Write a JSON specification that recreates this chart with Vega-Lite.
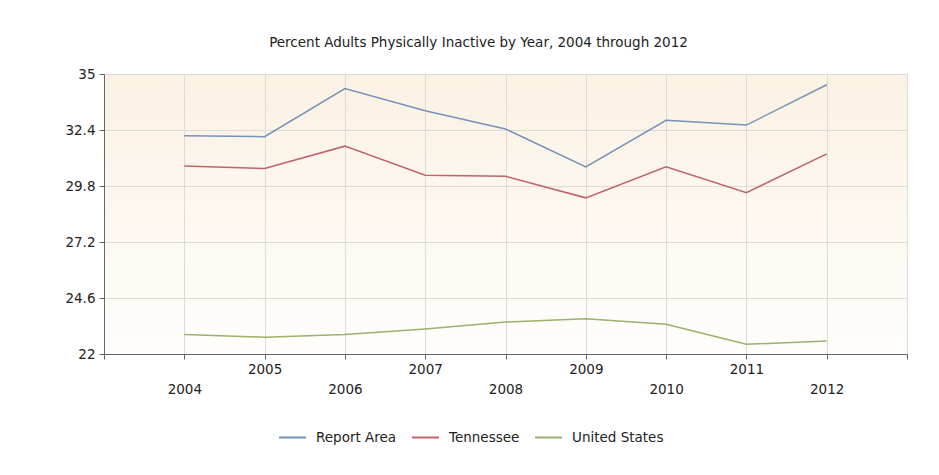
{
  "$schema": "https://vega.github.io/schema/vega-lite/v6.json",
  "width": 803,
  "height": 280,
  "autosize": {"type": "none"},
  "padding": {"left": 104, "top": 74, "right": 32, "bottom": 121},
  "background": "#ffffff",
  "title": {
    "text": "Percent Adults Physically Inactive by Year, 2004 through 2012",
    "font": "DejaVu Sans",
    "fontSize": 13.5,
    "fontWeight": "normal",
    "color": "#222222",
    "anchor": "middle",
    "offset": 18,
    "dx": -27
  },
  "data": {
    "values": [
      {"year": 2004, "series": "Report Area", "value": 32.13},
      {"year": 2005, "series": "Report Area", "value": 32.09},
      {"year": 2006, "series": "Report Area", "value": 34.32},
      {"year": 2007, "series": "Report Area", "value": 33.29},
      {"year": 2008, "series": "Report Area", "value": 32.45},
      {"year": 2009, "series": "Report Area", "value": 30.69},
      {"year": 2010, "series": "Report Area", "value": 32.85},
      {"year": 2011, "series": "Report Area", "value": 32.63},
      {"year": 2012, "series": "Report Area", "value": 34.5},
      {"year": 2004, "series": "Tennessee", "value": 30.73},
      {"year": 2005, "series": "Tennessee", "value": 30.61},
      {"year": 2006, "series": "Tennessee", "value": 31.65},
      {"year": 2007, "series": "Tennessee", "value": 30.3},
      {"year": 2008, "series": "Tennessee", "value": 30.25},
      {"year": 2009, "series": "Tennessee", "value": 29.25},
      {"year": 2010, "series": "Tennessee", "value": 30.69},
      {"year": 2011, "series": "Tennessee", "value": 29.49},
      {"year": 2012, "series": "Tennessee", "value": 31.29},
      {"year": 2004, "series": "United States", "value": 22.91},
      {"year": 2005, "series": "United States", "value": 22.78},
      {"year": 2006, "series": "United States", "value": 22.9},
      {"year": 2007, "series": "United States", "value": 23.16},
      {"year": 2008, "series": "United States", "value": 23.48},
      {"year": 2009, "series": "United States", "value": 23.64},
      {"year": 2010, "series": "United States", "value": 23.38},
      {"year": 2011, "series": "United States", "value": 22.45},
      {"year": 2012, "series": "United States", "value": 22.6}
    ]
  },
  "mark": {"type": "line", "strokeWidth": 1.5},
  "encoding": {
    "x": {
      "field": "year",
      "type": "quantitative",
      "scale": {"domain": [2003, 2013], "nice": false, "zero": false},
      "axis": {
        "title": null,
        "values": [2003, 2004, 2005, 2006, 2007, 2008, 2009, 2010, 2011, 2012, 2013],
        "format": "d",
        "labelExpr": "datum.value < 2004 || datum.value > 2012 ? '' : (datum.value % 2 == 0 ? ['', datum.label] : datum.label)",
        "labelPadding": 3,
        "labelBaseline": "top",
        "labelLineHeight": 20
      }
    },
    "y": {
      "field": "value",
      "type": "quantitative",
      "scale": {"domain": [22, 35], "nice": false, "zero": false},
      "axis": {
        "title": null,
        "values": [22, 24.6, 27.2, 29.8, 32.4, 35],
        "format": ".3~g",
        "labelPadding": 4
      }
    },
    "color": {
      "field": "series",
      "type": "nominal",
      "scale": {
        "domain": ["Report Area", "Tennessee", "United States"],
        "range": ["#7393bb", "#c0626b", "#9bb06c"]
      },
      "legend": {
        "title": null,
        "orient": "none",
        "direction": "horizontal",
        "legendX": 174,
        "legendY": 349,
        "symbolType": "stroke",
        "symbolSize": 729,
        "symbolStrokeWidth": 2,
        "labelOffset": 9,
        "labelFont": "DejaVu Sans",
        "labelFontSize": 13.5,
        "labelColor": "#222222",
        "columnPadding": 11
      }
    }
  },
  "config": {
    "view": {
      "stroke": "#d0d0d0",
      "fill": {
        "gradient": "linear",
        "x1": 0, "y1": 0, "x2": 0, "y2": 1,
        "stops": [
          {"offset": 0, "color": "#fbf1e3"},
          {"offset": 1, "color": "#fffefc"}
        ]
      }
    },
    "axis": {
      "labelFont": "DejaVu Sans",
      "labelFontSize": 13.5,
      "labelColor": "#222222",
      "domainColor": "#666666",
      "tickColor": "#666666",
      "tickSize": 5,
      "gridColor": "#dedad4",
      "gridOpacity": 1
    }
  }
}
